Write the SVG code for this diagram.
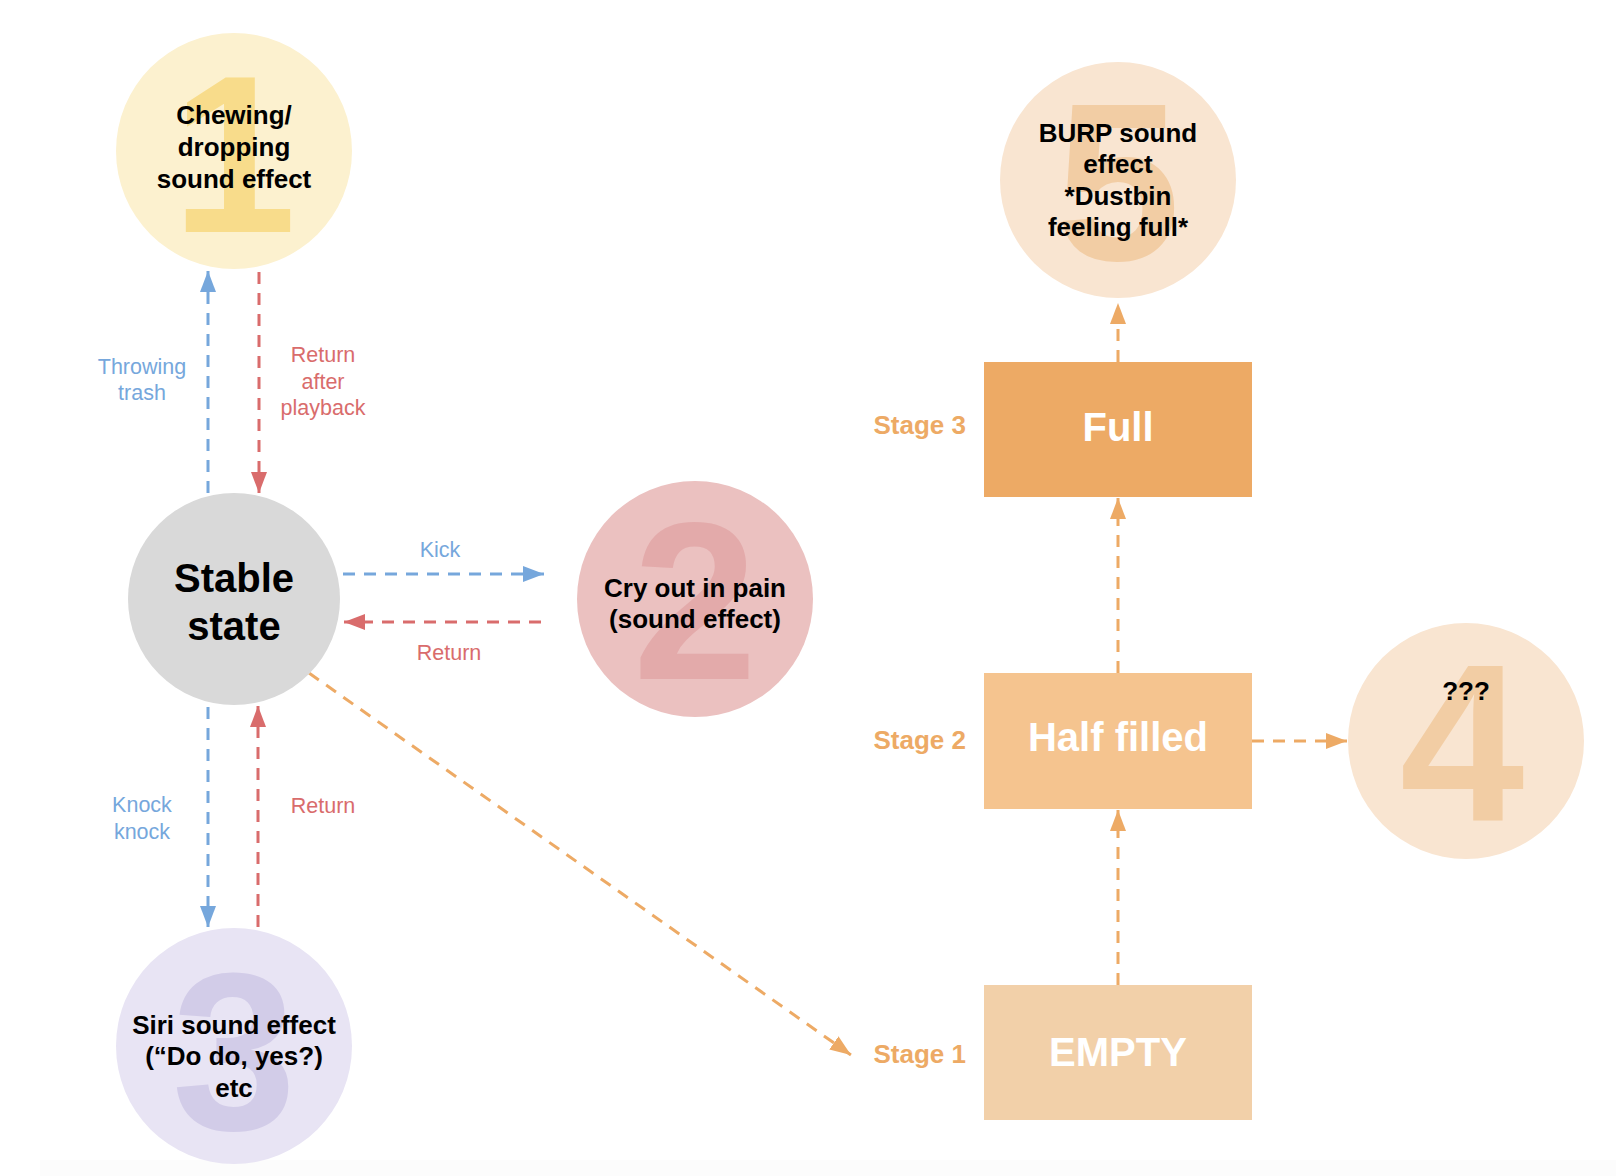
<svg xmlns="http://www.w3.org/2000/svg" width="1616" height="1176" viewBox="0 0 1616 1176">
<defs>
<style>
.t{font-family:"Liberation Sans",Arial,sans-serif;font-weight:bold;text-anchor:middle;fill:#000;font-size:26px}
.big{font-family:"Liberation Sans",Arial,sans-serif;font-weight:bold;text-anchor:middle;font-size:224px}
.lbl{font-family:"Liberation Sans",Arial,sans-serif;text-anchor:middle;font-size:21.5px}
.box{font-family:"Liberation Sans",Arial,sans-serif;font-weight:bold;text-anchor:middle;fill:#fff;font-size:40px}
.stage{font-family:"Liberation Sans",Arial,sans-serif;font-weight:bold;text-anchor:end;fill:#EDAA65;font-size:26px}
.c{fill:none;stroke-width:3;stroke-dasharray:12 9}
.blue{stroke:#76A7DC}
.red{stroke:#D96C6C}
.org{stroke:#EDAA65}
</style>
<marker id="ab" markerUnits="userSpaceOnUse" markerWidth="22" markerHeight="16" refX="21" refY="8" orient="auto"><path d="M0,0 L21,8 L0,16 Z" fill="#76A7DC"/></marker>
<marker id="ar" markerUnits="userSpaceOnUse" markerWidth="22" markerHeight="16" refX="21" refY="8" orient="auto"><path d="M0,0 L21,8 L0,16 Z" fill="#D96C6C"/></marker>
<marker id="ao" markerUnits="userSpaceOnUse" markerWidth="22" markerHeight="16" refX="21" refY="8" orient="auto"><path d="M0,0 L21,8 L0,16 Z" fill="#EDAA65"/></marker>
</defs>
<rect width="1616" height="1176" fill="#fff"/>
<rect x="40" y="1160" width="1576" height="16" fill="#FCFCFC"/>

<g id="connectors">
<line class="c blue" x1="208" y1="493" x2="208" y2="271" marker-end="url(#ab)"/>
<line class="c red" x1="259" y1="272" x2="259" y2="493" marker-end="url(#ar)"/>
<line class="c blue" x1="343" y1="574" x2="544" y2="574" marker-end="url(#ab)"/>
<line class="c red" x1="541" y1="622" x2="344" y2="622" marker-end="url(#ar)"/>
<line class="c blue" x1="208" y1="707" x2="208" y2="927" marker-end="url(#ab)"/>
<line class="c red" x1="258" y1="927" x2="258" y2="706" marker-end="url(#ar)"/>
<line class="c org" x1="309" y1="673" x2="851" y2="1055" marker-end="url(#ao)"/>
<line class="c org" x1="1118" y1="985" x2="1118" y2="810" marker-end="url(#ao)"/>
<line class="c org" x1="1118" y1="673" x2="1118" y2="498" marker-end="url(#ao)"/>
<line class="c org" x1="1118" y1="362" x2="1118" y2="303" marker-end="url(#ao)"/>
<line class="c org" x1="1252" y1="741" x2="1347" y2="741" marker-end="url(#ao)"/>
<text class="lbl" fill="#76A7DC" x="142" y="374">Throwing</text>
<text class="lbl" fill="#76A7DC" x="142" y="400">trash</text>
<text class="lbl" fill="#D96C6C" x="323" y="362">Return</text>
<text class="lbl" fill="#D96C6C" x="323" y="389">after</text>
<text class="lbl" fill="#D96C6C" x="323" y="415">playback</text>
<text class="lbl" fill="#76A7DC" x="440" y="557">Kick</text>
<text class="lbl" fill="#D96C6C" x="449" y="660">Return</text>
<text class="lbl" fill="#76A7DC" x="142" y="812">Knock</text>
<text class="lbl" fill="#76A7DC" x="142" y="839">knock</text>
<text class="lbl" fill="#D96C6C" x="323" y="813">Return</text>
</g>

<g id="node1">
<circle cx="234" cy="151" r="118" fill="#FCF1CF"/>
<text class="big" fill="#F8DC8B" x="234" y="232">1</text>
<text class="t" x="234" y="124">Chewing/</text>
<text class="t" x="234" y="156">dropping</text>
<text class="t" x="234" y="188">sound effect</text>
</g>

<g id="stable">
<circle cx="234" cy="599" r="106" fill="#D9D9D9"/>
<text class="t" style="font-size:40px" x="234" y="592">Stable</text>
<text class="t" style="font-size:40px" x="234" y="640">state</text>
</g>

<g id="node2">
<circle cx="695" cy="599" r="118" fill="#EBC1C0"/>
<text class="big" fill="#E3AAAA" x="695" y="679">2</text>
<text class="t" x="695" y="597">Cry out in pain</text>
<text class="t" x="695" y="628">(sound effect)</text>
</g>

<g id="node3">
<circle cx="234" cy="1046" r="118" fill="#E8E4F4"/>
<text class="big" fill="#D2CCE8" x="234" y="1129">3</text>
<text class="t" x="234" y="1034">Siri sound effect</text>
<text class="t" x="234" y="1065">(“Do do, yes?)</text>
<text class="t" x="234" y="1097">etc</text>
</g>

<g id="node5">
<circle cx="1118" cy="180" r="118" fill="#F9E5D1"/>
<text class="big" fill="#F2CDA4" x="1118" y="260">5</text>
<text class="t" x="1118" y="142">BURP sound</text>
<text class="t" x="1118" y="173">effect</text>
<text class="t" x="1118" y="205">*Dustbin</text>
<text class="t" x="1118" y="236">feeling full*</text>
</g>

<g id="node4">
<circle cx="1466" cy="741" r="118" fill="#F9E5D1"/>
<text class="big" fill="#F2CDA4" x="1462" y="821">4</text>
<text class="t" x="1466" y="700">???</text>
</g>

<g id="full">
<rect x="984" y="362" width="268" height="135" fill="#EDAA65"/>
<text class="box" x="1118" y="441">Full</text>
<text class="stage" x="966" y="434">Stage 3</text>
</g>

<g id="half">
<rect x="984" y="673" width="268" height="136" fill="#F5C48F"/>
<text class="box" x="1118" y="751">Half filled</text>
<text class="stage" x="966" y="749">Stage 2</text>
</g>

<g id="empty">
<rect x="984" y="985" width="268" height="135" fill="#F2D0A9"/>
<text class="box" x="1118" y="1066">EMPTY</text>
<text class="stage" x="966" y="1063">Stage 1</text>
</g>
</svg>
